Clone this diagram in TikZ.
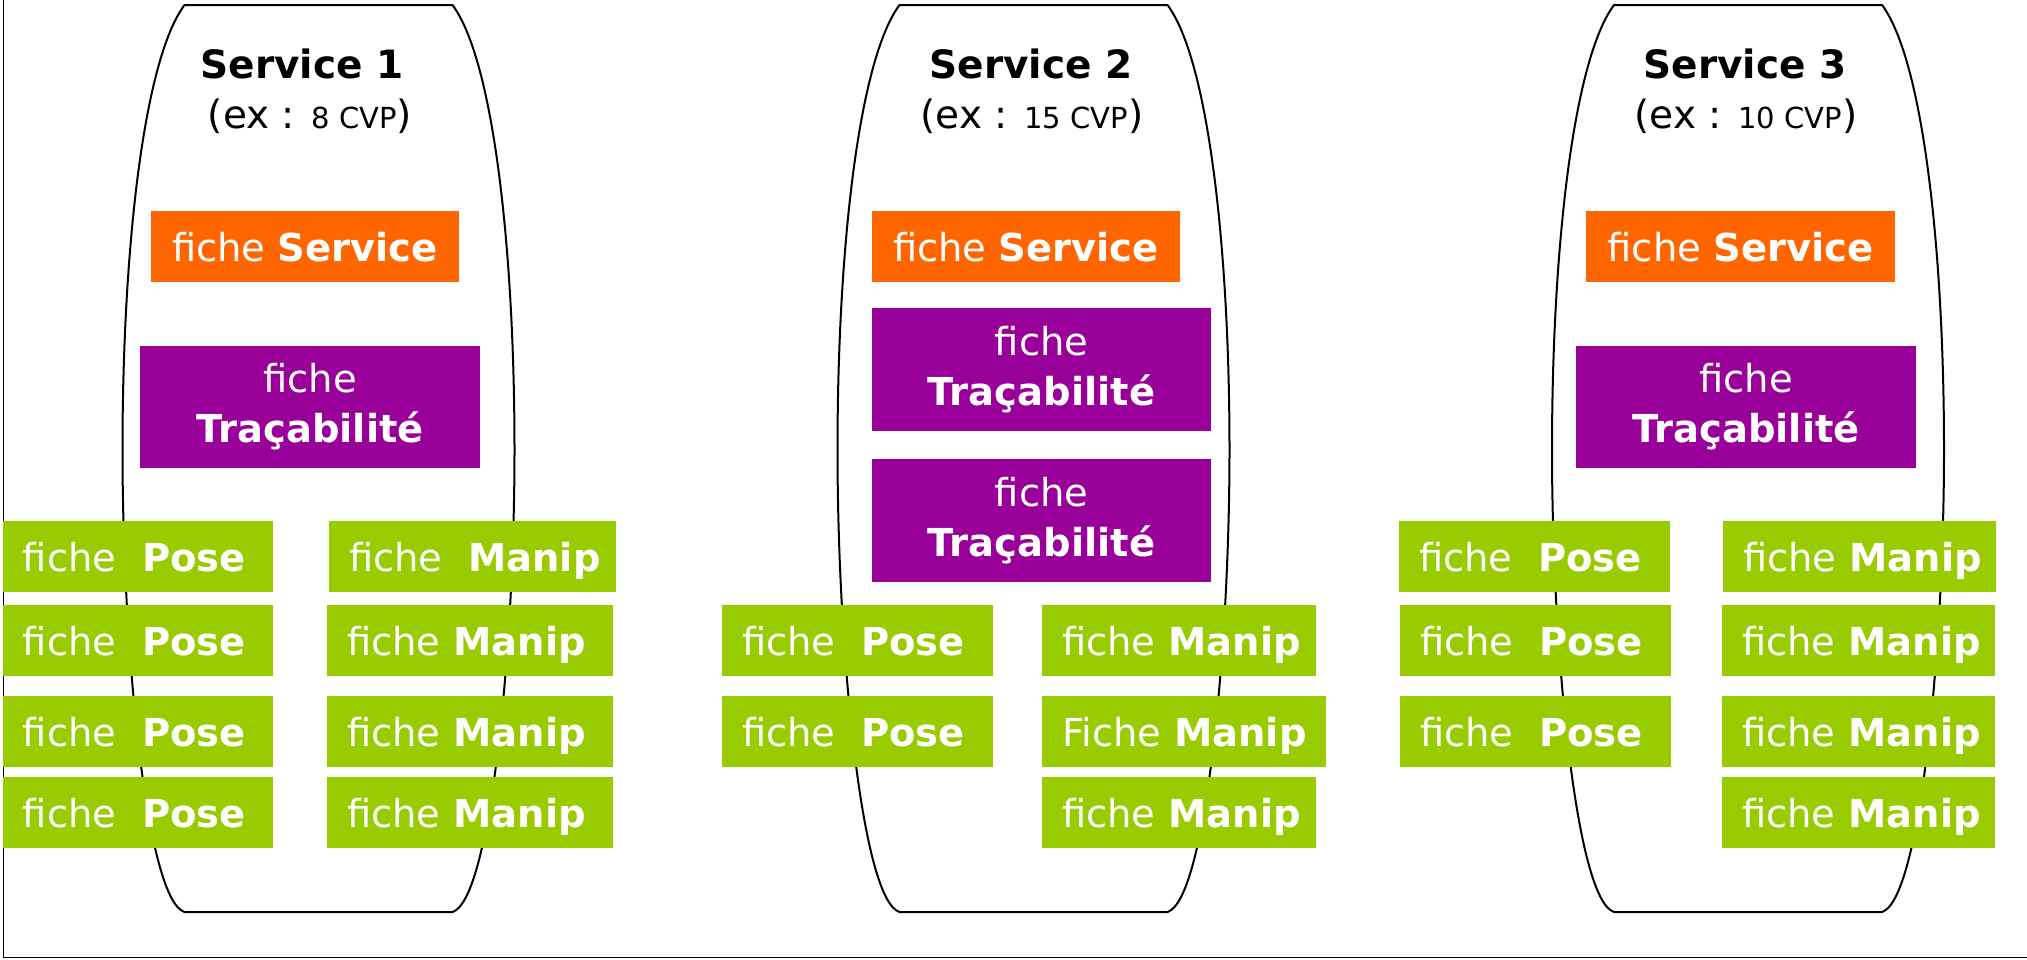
\documentclass[tikz,border=0pt]{standalone}
\usepackage{fontspec}
\setmainfont{DejaVu Sans}
\definecolor{servorange}{HTML}{FF6600}
\definecolor{tracepurple}{HTML}{990099}
\definecolor{leafgreen}{HTML}{99CC00}
% card labels are never split across lines
\hyphenpenalty=10000
\exhyphenpenalty=10000
\hfuzz=40pt
% one service container, centred at x = #1
\newcommand\servicecapsule[1]{%
  \draw[capsule, shift={(#1,0)}]
    (-134,5) .. controls (-175,60) and (-196,250) .. (-196,450)
    .. controls (-196,650) and (-172,900) .. (-134,912)
    -- (134,912)
    .. controls (172,900) and (196,650) .. (196,450)
    .. controls (196,250) and (175,60) .. (134,5) -- cycle;}
\begin{document}
\begin{tikzpicture}[x=1pt,y=-1pt,
  capsule/.style={draw=black, line width=2pt, fill=white},
  card/.style={inner sep=0pt, text=white, font=\fontsize{38.5}{50}\selectfont},
  svcard/.style={card, fill=servorange, minimum width=#1, minimum height=71pt,
                 text height=29pt, text depth=0pt},
  tracard/.style={card, fill=tracepurple, minimum width=#1, minimum height=122pt,
                  align=center},
  leaf/.style={card, fill=leafgreen, inner xsep=20pt, text width=#1, align=left,
               minimum height=71pt, text height=29pt, text depth=0pt},
  title/.style={anchor=base, inner sep=0pt, font=\fontsize{39}{45}\selectfont\bfseries},
  subtitle/.style={anchor=base, inner sep=0pt, font=\fontsize{39}{45}\selectfont}]
\useasboundingbox (0,0) rectangle (2027,959);

% frame edges
\draw[line width=1.8pt] (3.5,0) -- (3.5,957.5) -- (2027,957.5);

% containers
\servicecapsule{318.5}
\servicecapsule{1033.5}
\servicecapsule{1748}

% ---- Service 1
\node[title] (t1) at (302,78) {Service 1};
\node[subtitle] (s1) at (310,128) {(ex : {\fontsize{29}{30}\selectfont 8 CVP})};
\node[svcard=308pt] (fs1) at (305,246.5) {fiche \textbf{Service}};
\node[tracard=340pt] (ft1) at (310,407) {fiche\\\textbf{Traçabilité}};
\node[leaf=230pt] (p11) at (138,556.5) {fiche~~\textbf{Pose}};
\node[leaf=230pt] (p12) at (138,640.5) {fiche~~\textbf{Pose}};
\node[leaf=230pt] (p13) at (138,731.5) {fiche~~\textbf{Pose}};
\node[leaf=230pt] (p14) at (138,812.5) {fiche~~\textbf{Pose}};
\node[leaf=247pt] (m11) at (472.5,556.5) {fiche~~\textbf{Manip}};
\node[leaf=246pt] (m12) at (470,640.5) {fiche~\textbf{Manip}};
\node[leaf=246pt] (m13) at (470,731.5) {fiche~\textbf{Manip}};
\node[leaf=246pt] (m14) at (470,812.5) {fiche~\textbf{Manip}};

% ---- Service 2
\node[title] (t2) at (1031,78) {Service 2};
\node[subtitle] (s2) at (1032,128) {(ex : {\fontsize{29}{30}\selectfont 15 CVP})};
\node[svcard=308pt] (fs2) at (1026,246.5) {fiche \textbf{Service}};
\node[tracard=339pt, minimum height=123pt] (ft2a) at (1041.5,369.5) {fiche\\\textbf{Traçabilité}};
\node[tracard=339pt, minimum height=123pt] (ft2b) at (1041.5,520.5) {fiche\\\textbf{Traçabilité}};
\node[leaf=231pt] (p21) at (857.5,640.5) {fiche~~\textbf{Pose}};
\node[leaf=231pt] (p22) at (857.5,731.5) {fiche~~\textbf{Pose}};
\node[leaf=234pt] (m21) at (1179,640.5) {fiche~\textbf{Manip}};
\node[leaf=244pt] (m22) at (1184,731.5) {Fiche~\textbf{Manip}};
\node[leaf=234pt] (m23) at (1179,812.5) {fiche~\textbf{Manip}};

% ---- Service 3
\node[title] (t3) at (1745,78) {Service 3};
\node[subtitle] (s3) at (1746,128) {(ex : {\fontsize{29}{30}\selectfont 10 CVP})};
\node[svcard=309pt] (fs3) at (1740.5,246.5) {fiche \textbf{Service}};
\node[tracard=340pt] (ft3) at (1746,407) {fiche\\\textbf{Traçabilité}};
\node[leaf=231pt] (p31) at (1534.5,556.5) {fiche~~\textbf{Pose}};
\node[leaf=231pt] (p32) at (1535.5,640.5) {fiche~~\textbf{Pose}};
\node[leaf=231pt] (p33) at (1535.5,731.5) {fiche~~\textbf{Pose}};
\node[leaf=233pt] (m31) at (1859.5,556.5) {fiche~\textbf{Manip}};
\node[leaf=233pt] (m32) at (1858.5,640.5) {fiche~\textbf{Manip}};
\node[leaf=233pt] (m33) at (1858.5,731.5) {fiche~\textbf{Manip}};
\node[leaf=233pt] (m34) at (1858.5,812.5) {fiche~\textbf{Manip}};
\end{tikzpicture}
\end{document}
